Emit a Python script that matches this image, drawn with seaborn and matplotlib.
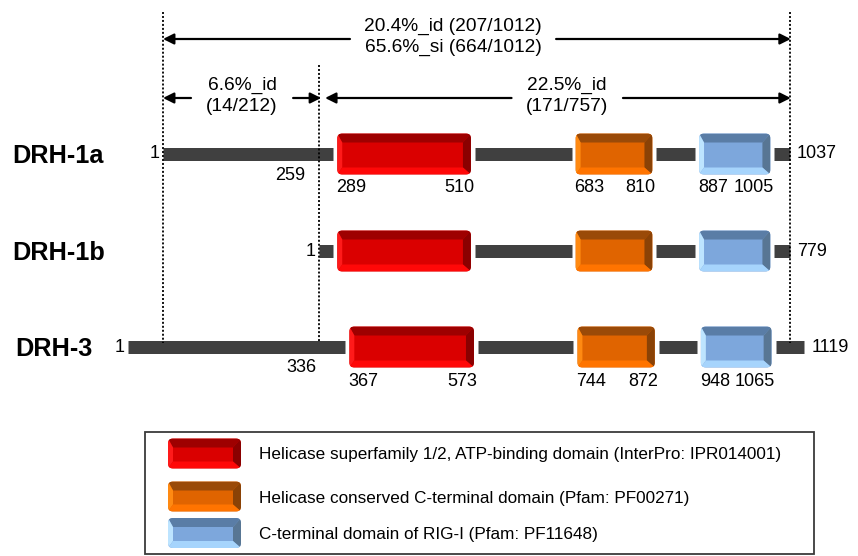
import matplotlib
matplotlib.use("Agg")
import matplotlib.pyplot as plt
import seaborn as sns
import pandas as pd
from matplotlib.patches import FancyBboxPatch, Polygon, Rectangle

# ---------------- data ----------------
proteins = ["DRH-1a", "DRH-1b", "DRH-3"]
lengths = [1037, 779, 1119]
align_shift = [0, 258, -58]          # residue offset aligning each protein on DRH-1a
helicase_start = [289, 31, 367]
helicase_end = [510, 252, 573]
ctd_start = [683, 425, 744]
ctd_end = [810, 552, 872]
rig_start = [887, 629, 948]
rig_end = [1005, 747, 1065]
show_domain_numbers = [True, False, True]
boundary_residue = [259, None, 336]

align_marks = [1, 259, 1037]          # DRH-1a residues of the dotted alignment lines
full_label = "20.4%_id (207/1012)\n65.6%_si (664/1012)"
seg1_label = "6.6%_id\n(14/212)"
seg2_label = "22.5%_id\n(171/757)"

legend_labels = [
    "Helicase superfamily 1/2, ATP-binding domain (InterPro: IPR014001)",
    "Helicase conserved C-terminal domain (Pfam: PF00271)",
    "C-terminal domain of RIG-I (Pfam: PF11648)",
]

# ---------------- style ----------------
sns.set_theme(style="white")
plt.rcParams["font.family"] = ["Liberation Sans", "DejaVu Sans"]
plt.rcParams["text.color"] = "black"

palettes = {
    "hel": dict(center="#DA0000", top="#9E0000", right="#8A0000", left="#FF1A1A", bottom="#FF0808"),
    "ctd": dict(center="#E06400", top="#9A4A08", right="#8A4206", left="#FF8A12", bottom="#FF7400"),
    "rig": dict(center="#7DA7DC", top="#5A7DA6", right="#587694", left="#BDE4FF", bottom="#A6D4FC"),
}

W, H = 858, 556
S = 0.605      # pixels per residue
X0 = 163       # pixel of DRH-1a residue 1
row_y = [154, 251, 347]
LINE_H = 13
BOX_H = 41
GAP = 4

fig = plt.figure(figsize=(W / 100, H / 100), dpi=100)
ax = fig.add_axes([0, 0, 1, 1])


def px(d):
    return d / S


def xpos(p):
    return 1 + (p - X0) / S


def bevel_box(x0, x1, y0, y1, pal, z=3):
    base = FancyBboxPatch((x0, y0), x1 - x0, y1 - y0,
                          boxstyle=f"round,pad=0,rounding_size={px(5)}",
                          mutation_aspect=S, fc=pal["center"], ec="none", zorder=z)
    ax.add_patch(base)
    t, r, l, b = 9, 8, 5, 7
    xl, xr = x0 + px(l), x1 - px(r)
    yt, yb = y0 + t, y1 - b
    polys = [
        ([(x0, y0), (x1, y0), (xr, yt), (xl, yt)], pal["top"]),
        ([(x1, y0), (x1, y1), (xr, yb), (xr, yt)], pal["right"]),
        ([(x0, y0), (xl, yt), (xl, yb), (x0, y1)], pal["left"]),
        ([(x0, y1), (xl, yb), (xr, yb), (x1, y1)], pal["bottom"]),
    ]
    for pts, c in polys:
        p = Polygon(pts, closed=True, fc=c, ec="none", zorder=z + 0.1)
        ax.add_patch(p)
        p.set_clip_path(base)


# ---------------- backbones (seaborn) ----------------
rows = []
seg_id = 0
for i, name in enumerate(proteins):
    sh = align_shift[i]
    doms = [(helicase_start[i], helicase_end[i]), (ctd_start[i], ctd_end[i]), (rig_start[i], rig_end[i])]
    pts = [1 + sh]
    for s, e in doms:
        pts += [s + sh - px(GAP), e + sh + px(GAP)]
    pts.append(lengths[i] + sh)
    for k in range(0, len(pts), 2):
        rows.append(dict(x=pts[k], y=row_y[i], seg=seg_id))
        rows.append(dict(x=pts[k + 1], y=row_y[i], seg=seg_id))
        seg_id += 1
bb_df = pd.DataFrame(rows)
sns.lineplot(data=bb_df, x="x", y="y", units="seg", estimator=None, sort=False,
             color="#404040", lw=LINE_H * 72 / 100, ax=ax, legend=False)
for ln in ax.lines:
    ln.set_solid_capstyle("butt")
    ln.set_zorder(2)

# ---------------- domains & labels ----------------
num_fs = 13
for i, name in enumerate(proteins):
    sh = align_shift[i]
    yc = row_y[i]
    doms = [(helicase_start[i], helicase_end[i], "hel"),
            (ctd_start[i], ctd_end[i], "ctd"),
            (rig_start[i], rig_end[i], "rig")]
    for s, e, kind in doms:
        bevel_box(s + sh, e + sh, yc - BOX_H / 2, yc + BOX_H / 2, palettes[kind])
        if show_domain_numbers[i]:
            ax.text(s + sh - px(1), yc + 34, str(s), ha="left", va="center", fontsize=num_fs)
            ax.text(e + sh + px(3), yc + 34, str(e), ha="right", va="center", fontsize=num_fs)
    ax.text(1 + sh - px(3), yc, "1", ha="right", va="center", fontsize=num_fs)
    ax.text(lengths[i] + sh + px(7), yc, str(lengths[i]), ha="left", va="center", fontsize=num_fs)
    if boundary_residue[i] is not None:
        ax.text(boundary_residue[i] + sh - px(14), yc + 21, str(boundary_residue[i]),
                ha="right", va="center", fontsize=num_fs)
    ax.text(xpos(12 if i < 2 else 15), yc + 2, name, ha="left", va="center",
            fontsize=18.2, fontweight="bold")

# ---------------- dotted alignment lines ----------------
dot_tops = [12, 65, 12]
for r, top in zip(align_marks, dot_tops):
    ax.plot([r, r], [top, row_y[2] - 4], color="black", lw=1.3,
            linestyle=(0, (1.1, 1.1)), zorder=6, solid_capstyle="butt")

# ---------------- dimension arrows ----------------
arrow_kw = dict(arrowstyle="-|>", color="black", lw=1.6, mutation_scale=16,
                shrinkA=0, shrinkB=0)


def dim_arrow(xa, xb, y, label, frac, gap):
    xc = xa + (xb - xa) * frac
    t = ax.text(xc, y - 2, label, ha="center", va="center", fontsize=13.8,
                linespacing=1.25)
    fig.canvas.draw()
    bb = t.get_window_extent().transformed(ax.transData.inverted())
    le = min(bb.x0, bb.x1) - px(gap)
    re = max(bb.x0, bb.x1) + px(gap)
    ax.annotate("", xy=(xa, y), xytext=(le, y), arrowprops=arrow_kw)
    ax.annotate("", xy=(xb, y), xytext=(re, y), arrowprops=arrow_kw)


a0, a1, a2 = align_marks
dim_arrow(a0, a2 + px(1), 39, full_label, 0.462, 26)
dim_arrow(a0, a1 + px(2), 98, seg1_label, 0.5, 20)
dim_arrow(a1 + px(6), a2 + px(1), 98, seg2_label, 0.52, 20)

# ---------------- legend ----------------
ax.add_patch(Rectangle((xpos(145), 432), px(814 - 145), 554 - 432, fill=False,
                       ec="#3a3a3a", lw=1.3, zorder=5))
leg_y = [453.5, 496.5, 533]
for lab, kind, ly in zip(legend_labels, ["hel", "ctd", "rig"], leg_y):
    bevel_box(xpos(168), xpos(241), ly - 15, ly + 15, palettes[kind])
    ax.text(xpos(259), ly + 1.5, lab, ha="left", va="center", fontsize=12.35)

ax.set_xlim(xpos(0), xpos(W))
ax.set_ylim(H, 0)
ax.axis("off")
fig.savefig("out.png", dpi=100)
